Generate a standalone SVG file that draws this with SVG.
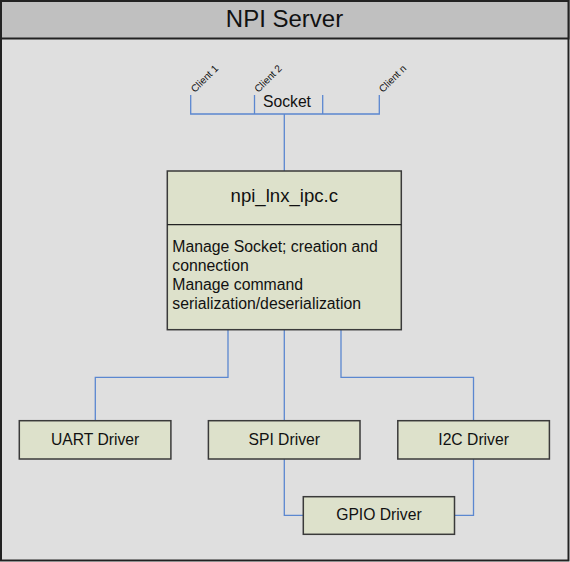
<svg xmlns="http://www.w3.org/2000/svg" width="570" height="562" viewBox="0 0 570 562">
<style>
text{font-family:"Liberation Sans",Arial,sans-serif;fill:#111}
.box{fill:#DDE1CB;stroke:#3a3a3a;stroke-width:1.5}
.conn{fill:none;stroke:#5B87D0;stroke-width:1.3}
.lbl{font-size:15.7px;text-anchor:middle}
.cl{font-size:10px}
</style>
<g id="frame">
<rect x="1" y="1" width="567.5" height="559.5" fill="#DFDFDF" stroke="#222" stroke-width="2"/>
<rect x="1" y="1" width="567.5" height="37.5" fill="#C0C0C0" stroke="#222" stroke-width="2"/>
<text x="284.5" y="27" font-size="24" text-anchor="middle">NPI Server</text>
</g>
<g id="connectors">
<path class="conn" d="M190.7 95V114H379.3V95M254.5 95V114M322.7 95V114M284.3 114V171"/>
<path class="conn" d="M228 330V377.3H95.3V421"/>
<path class="conn" d="M284.3 330V421"/>
<path class="conn" d="M341 330V377.3H473.5V421"/>
<path class="conn" d="M284.3 459V515.3H303.3"/>
<path class="conn" d="M473.5 459V515.3H454.5"/>
</g>
<g id="socket">
<text x="287" y="107.3" class="lbl">Socket</text>
<text class="cl" transform="translate(195,93) rotate(-45)">Client 1</text>
<text class="cl" transform="translate(258.5,93) rotate(-45)">Client 2</text>
<text class="cl" transform="translate(383,93) rotate(-45)">Client n</text>
</g>
<g id="npi_lnx_ipc">
<rect class="box" x="167.3" y="171" width="234" height="158.7"/>
<line x1="167.3" y1="224.7" x2="401.3" y2="224.7" stroke="#222" stroke-width="1.3"/>
<text x="284.3" y="202.3" font-size="18.6" text-anchor="middle">npi_lnx_ipc.c</text>
<text x="172.3" y="252.3" font-size="15.8">Manage Socket; creation and</text>
<text x="172.3" y="271.3" font-size="15.8">connection</text>
<text x="172.3" y="290.3" font-size="15.8">Manage command</text>
<text x="172.3" y="309.3" font-size="15.8">serialization/deserialization</text>
</g>
<g id="uart">
<rect class="box" x="19.3" y="420.7" width="151.6" height="38.3"/>
<text x="95.1" y="444.5" class="lbl">UART Driver</text>
</g>
<g id="spi">
<rect class="box" x="208.4" y="420.7" width="151.6" height="38.3"/>
<text x="284.2" y="444.5" class="lbl">SPI Driver</text>
</g>
<g id="i2c">
<rect class="box" x="397.8" y="420.7" width="151.6" height="38.3"/>
<text x="473.6" y="444.5" class="lbl">I2C Driver</text>
</g>
<g id="gpio">
<rect class="box" x="303.3" y="496.7" width="151.2" height="37.6"/>
<text x="378.9" y="520.3" class="lbl">GPIO Driver</text>
</g>
</svg>
